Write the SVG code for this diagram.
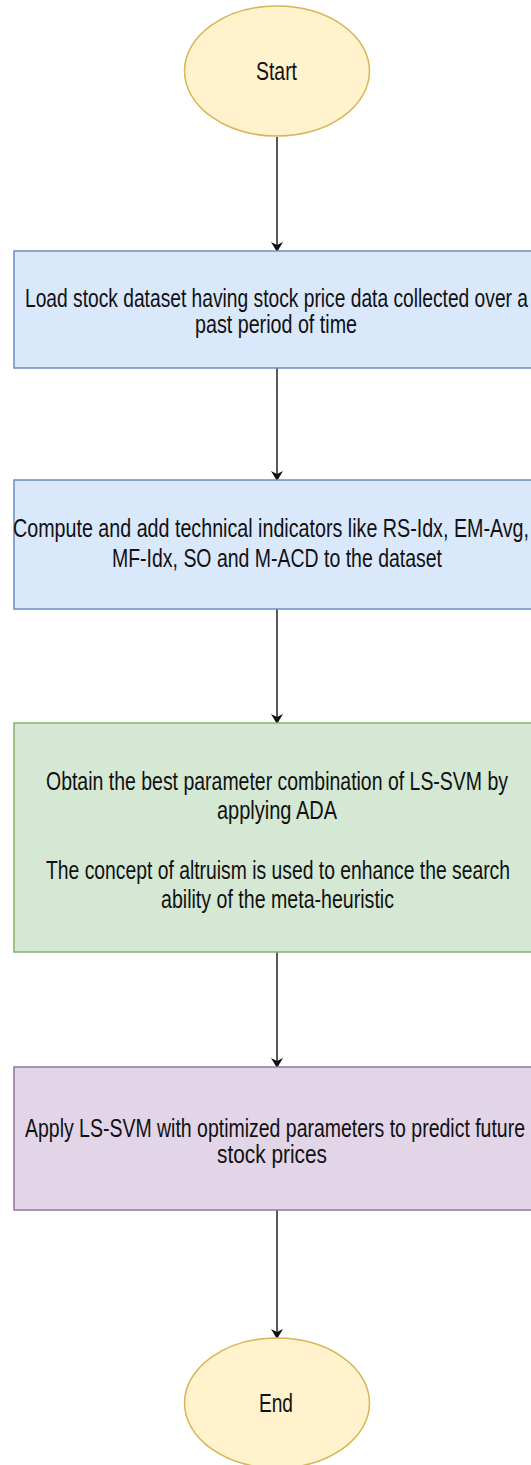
<svg xmlns="http://www.w3.org/2000/svg" width="531" height="1465" viewBox="0 0 531 1465">
<defs>
<style>
.t{font-family:"Liberation Sans",Arial,sans-serif;font-size:25px;fill:#111;}
.term{fill:#fff2cc;stroke:#d6b656;stroke-width:1.5;}
.blue{fill:#dae8fc;stroke:#6c8ebf;stroke-width:1.5;}
.green{fill:#d5e8d4;stroke:#82b366;stroke-width:1.5;}
.purple{fill:#e1d5e7;stroke:#9673a6;stroke-width:1.5;}
.edge{stroke:#222;stroke-width:1.5;fill:none;marker-end:url(#arr);}
</style>
<marker id="arr" markerWidth="10" markerHeight="12" refX="9" refY="6" orient="auto" markerUnits="userSpaceOnUse">
<path d="M0,0 L10,6 L0,12 L3,6 Z" fill="#111"/>
</marker>
</defs>
<rect width="531" height="1465" fill="#fff"/>
<g id="connectors">
<line class="edge" x1="277" y1="137" x2="277" y2="251"/>
<line class="edge" x1="277" y1="368" x2="277" y2="480"/>
<line class="edge" x1="277" y1="609" x2="277" y2="723"/>
<line class="edge" x1="277" y1="952" x2="277" y2="1067"/>
<line class="edge" x1="277" y1="1210" x2="277" y2="1338"/>
</g>
<g id="start">
<ellipse class="term" cx="277" cy="71" rx="92.5" ry="65"/>
<text class="t" x="256" y="80" textLength="41" lengthAdjust="spacingAndGlyphs">Start</text>
</g>
<g id="load">
<rect class="blue" x="14" y="251" width="526" height="117"/>
<text class="t" x="25" y="307" textLength="503" lengthAdjust="spacingAndGlyphs">Load stock dataset having stock price data collected over a</text>
<text class="t" x="195" y="333" textLength="162" lengthAdjust="spacingAndGlyphs">past period of time</text>
</g>
<g id="compute">
<rect class="blue" x="14" y="480" width="526" height="129"/>
<text class="t" x="13" y="537" textLength="516" lengthAdjust="spacingAndGlyphs">Compute and add technical indicators like RS-Idx, EM-Avg,</text>
<text class="t" x="112" y="567" textLength="330" lengthAdjust="spacingAndGlyphs">MF-Idx, SO and M-ACD to the dataset</text>
</g>
<g id="optimize">
<rect class="green" x="14" y="723" width="526" height="229"/>
<text class="t" x="46" y="790" textLength="462" lengthAdjust="spacingAndGlyphs">Obtain the best parameter combination of LS-SVM by</text>
<text class="t" x="217" y="819" textLength="120" lengthAdjust="spacingAndGlyphs">applying ADA</text>
<text class="t" x="46" y="879" textLength="464" lengthAdjust="spacingAndGlyphs">The concept of altruism is used to enhance the search</text>
<text class="t" x="161" y="908" textLength="233" lengthAdjust="spacingAndGlyphs">ability of the meta-heuristic</text>
</g>
<g id="predict">
<rect class="purple" x="14" y="1067" width="526" height="143"/>
<text class="t" x="25" y="1137" textLength="500" lengthAdjust="spacingAndGlyphs">Apply LS-SVM with optimized parameters to predict future</text>
<text class="t" x="217" y="1163" textLength="110" lengthAdjust="spacingAndGlyphs">stock prices</text>
</g>
<g id="end">
<ellipse class="term" cx="277" cy="1403" rx="92.5" ry="65"/>
<text class="t" x="259" y="1412" textLength="34" lengthAdjust="spacingAndGlyphs">End</text>
</g>
</svg>
